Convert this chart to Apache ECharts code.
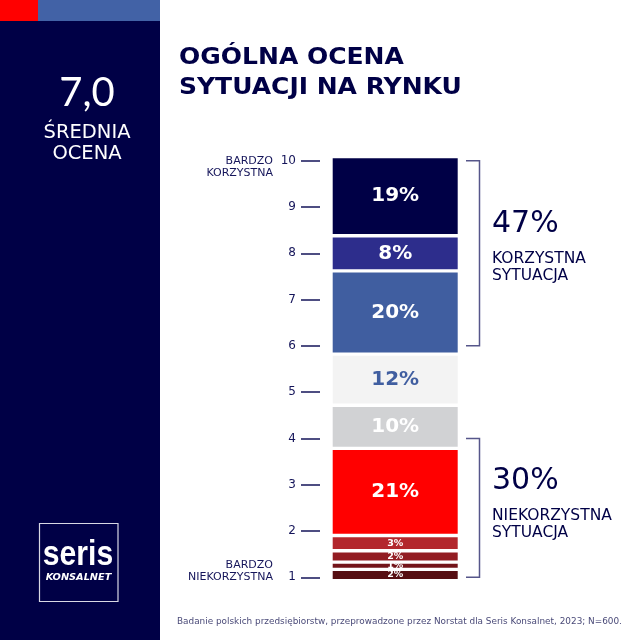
<!DOCTYPE html>
<html>
<head>
<meta charset="utf-8">
<script src="https://cdn.jsdelivr.net/npm/echarts@6/dist/echarts.min.js"></script>
<style>
html,body{margin:0;padding:0;background:#fff;}
#c{width:640px;height:640px;}
</style>
</head>
<body>
<div id="c"></div>
<script>
// ---- data ----
const averageScore = '7,0';
const averageLabel = ['ŚREDNIA', 'OCENA'];
const titleLines = ['OGÓLNA OCENA', 'SYTUACJI NA RYNKU'];
const ratingTicks = [1, 2, 3, 4, 5, 6, 7, 8, 9, 10];
const ratingEnds = { top: ['BARDZO', 'KORZYSTNA'], bottom: ['BARDZO', 'NIEKORZYSTNA'] };
// share of answers, stacked segments from top to bottom
const shares = [19, 8, 20, 12, 10, 21, 3, 2, 1, 2];
const summaryPct = ['47%', '30%'];
const summaryText = [['KORZYSTNA', 'SYTUACJA'], ['NIEKORZYSTNA', 'SYTUACJA']];
const summaryRange = [[6, 10], [1, 4]];
const footnote = 'Badanie polskich przedsiębiorstw, przeprowadzone przez Norstat dla Seris Konsalnet, 2023; N=600.';

// ---- styles ----
const NAVY = '#000046';
const TEXT = '#15155a';
const FONT = '"DejaVu Sans", sans-serif';
const NUMFONT = 'Lato, sans-serif';
const segColors = ['#000046', '#2d2d8c', '#405ea0', '#f3f3f3', '#d1d2d4', '#ff0000', '#b3272d', '#921c22', '#731419', '#560e12'];
const segLabelColors = ['#fff', '#fff', '#fff', '#405ea0', '#fff', '#fff', '#fff', '#fff', '#fff', '#fff'];
const GAP = 0.83;

const chart = echarts.init(document.getElementById('c'), null, { renderer: 'canvas' });

// stacked series: bottom first
const series = [];
for (let i = shares.length - 1; i >= 0; i--) {
  const small = shares[i] < 5;
  series.push({
    type: 'bar', xAxisIndex: 1, yAxisIndex: 1, stack: 'all', barWidth: 125,
    data: [shares[i]],
    itemStyle: { color: segColors[i] },
    label: {
      show: true, position: 'inside', formatter: '{c}%',
      color: segLabelColors[i], fontFamily: FONT, fontWeight: 'bold',
      fontSize: small ? 9.5 : 20
    },
    emphasis: { disabled: true }, animation: false
  });
  if (i > 0) {
    series.push({
      type: 'bar', xAxisIndex: 1, yAxisIndex: 1, stack: 'all', barWidth: 125,
      data: [GAP], itemStyle: { color: 'rgba(0,0,0,0)' }, silent: true,
      label: { show: false }, animation: false
    });
  }
}
const total = shares.reduce((a, b) => a + b, 0) + GAP * (shares.length - 1);

chart.setOption({
  animation: false,
  grid: [
    { left: 320, width: 1, top: 160.7, bottom: 62.7 },
    { left: 320, width: 150.4, top: 158.3, bottom: 61 }
  ],
  xAxis: [
    { gridIndex: 0, type: 'value', show: false },
    { gridIndex: 1, type: 'category', data: ['ocena'], show: false }
  ],
  yAxis: [
    {
      gridIndex: 0, type: 'value', min: ratingTicks[0], max: ratingTicks[ratingTicks.length - 1], interval: 1,
      axisLine: { show: false },
      axisTick: { show: true, length: 19, lineStyle: { color: TEXT, width: 1.5 } },
      axisLabel: { margin: 24, color: TEXT, fontSize: 12, fontFamily: FONT },
      splitLine: { show: false }
    },
    { gridIndex: 1, type: 'value', min: 0, max: total, show: false, splitLine: { show: false } }
  ],
  series: series
});

// ---- decorations ----
const yOf = v => chart.convertToPixel({ yAxisIndex: 0 }, v);
const g = [];
g.push({ type: 'rect', shape: { x: 0, y: 0, width: 160, height: 640 }, style: { fill: NAVY } });
g.push({ type: 'rect', shape: { x: 0, y: 0, width: 38, height: 21 }, style: { fill: '#ff0000' } });
g.push({ type: 'rect', shape: { x: 38, y: 0, width: 122, height: 21 }, style: { fill: '#4262a6' } });
g.push({ type: 'text', x: 87, y: 93, style: { text: averageScore, fill: '#fff', font: '40px ' + NUMFONT, textAlign: 'center', textVerticalAlign: 'middle' } });
g.push({ type: 'text', x: 87, y: 133, style: { text: averageLabel[0], fill: '#fff', font: '19.5px ' + FONT, textAlign: 'center', textVerticalAlign: 'middle' } });
g.push({ type: 'text', x: 87, y: 154, style: { text: averageLabel[1], fill: '#fff', font: '19.5px ' + FONT, textAlign: 'center', textVerticalAlign: 'middle' } });
// logo
g.push({ type: 'rect', shape: { x: 39.5, y: 523.5, width: 78.5, height: 78 }, style: { fill: 'none', stroke: '#d8d8e4', lineWidth: 1.2 } });
g.push({ type: 'text', x: 78, y: 555, scaleX: 0.86, style: { text: 'seris', fill: '#fff', font: 'bold 35px "Liberation Sans", sans-serif', textAlign: 'center', textVerticalAlign: 'middle' } });
g.push({ type: 'text', x: 78.5, y: 578, scaleX: 1.22, style: { text: 'KONSALNET', fill: '#fff', font: 'italic bold 8px "DejaVu Sans", sans-serif', textAlign: 'center', textVerticalAlign: 'middle' } });
// title
g.push({ type: 'text', x: 179, y: 58, scaleX: 1.087, style: { text: titleLines[0], fill: NAVY, font: 'bold 23px ' + FONT, textAlign: 'left', textVerticalAlign: 'middle' } });
g.push({ type: 'text', x: 179, y: 88.5, scaleX: 1.087, style: { text: titleLines[1], fill: NAVY, font: 'bold 23px ' + FONT, textAlign: 'left', textVerticalAlign: 'middle' } });
// axis ends
const yTop = yOf(ratingTicks[ratingTicks.length - 1]);
const yBot = yOf(ratingTicks[0]);
const endFont = '11px ' + FONT;
g.push({ type: 'text', x: 273, y: yTop, style: { text: ratingEnds.top[0], fill: TEXT, font: endFont, textAlign: 'right', textVerticalAlign: 'middle' } });
g.push({ type: 'text', x: 273, y: yTop + 12, style: { text: ratingEnds.top[1], fill: TEXT, font: endFont, textAlign: 'right', textVerticalAlign: 'middle' } });
g.push({ type: 'text', x: 273, y: yBot - 12.5, style: { text: ratingEnds.bottom[0], fill: TEXT, font: endFont, textAlign: 'right', textVerticalAlign: 'middle' } });
g.push({ type: 'text', x: 273, y: yBot, style: { text: ratingEnds.bottom[1], fill: TEXT, font: endFont, textAlign: 'right', textVerticalAlign: 'middle' } });
// brackets + summaries
const BR = '#56568a';
summaryRange.forEach((r, i) => {
  const y1 = yOf(r[1]), y0 = yOf(r[0]);
  g.push({ type: 'polyline', shape: { points: [[466, y1], [479.5, y1], [479.5, y0], [466, y0]] }, style: { stroke: BR, lineWidth: 1.5, fill: 'none' } });
  const top = i === 0 ? 224 : 481;
  g.push({ type: 'text', x: 492, y: top, style: { text: summaryPct[i], fill: NAVY, font: '30px ' + FONT, textAlign: 'left', textVerticalAlign: 'middle' } });
  g.push({ type: 'text', x: 492, y: top + 35, style: { text: summaryText[i][0], fill: NAVY, font: '15.5px ' + FONT, textAlign: 'left', textVerticalAlign: 'middle' } });
  g.push({ type: 'text', x: 492, y: top + 52, style: { text: summaryText[i][1], fill: NAVY, font: '15.5px ' + FONT, textAlign: 'left', textVerticalAlign: 'middle' } });
});
g.push({ type: 'text', x: 177, y: 621.5, style: { text: footnote, fill: '#4a4a78', font: '8.9px ' + FONT, textAlign: 'left', textVerticalAlign: 'middle' } });
chart.setOption({ graphic: g });
</script>
</body>
</html>
